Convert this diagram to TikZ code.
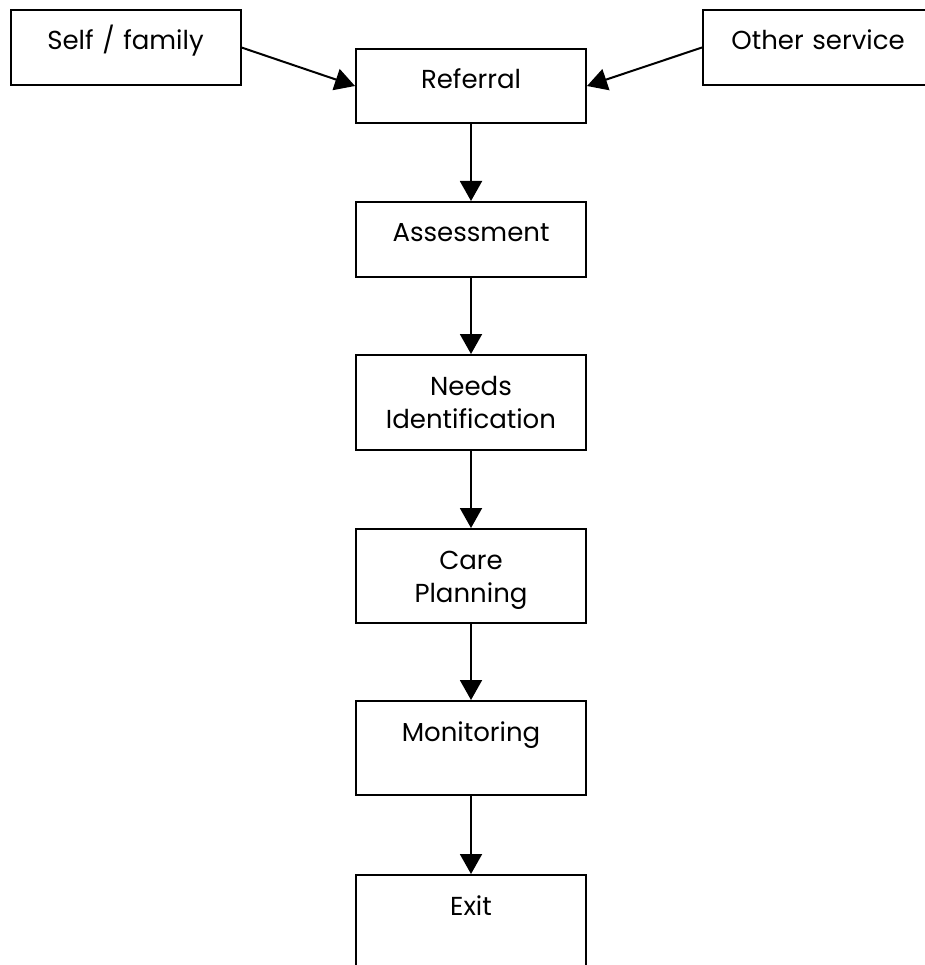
\documentclass[tikz,border=0pt]{standalone}
\usepackage{fontspec}
\setmainfont{Poppins}
\usetikzlibrary{arrows.meta}

\tikzset{
  stepbox/.style={draw, line width=2pt, minimum width=230pt, text width=220pt,
    align=center, anchor=north, inner ysep=0pt, text height=40pt, text depth=#1,
    font=\fontsize{26}{33}\selectfont},
  flow/.style={line width=2pt, -{Triangle[length=20pt,width=22pt]}}
}

\begin{document}
\begin{tikzpicture}[x=1pt,y=-1pt]
\useasboundingbox (0,0) rectangle (924,965);

% sources
\node[stepbox=35pt] (self) at (125.5,9) {Self / family};
\node[stepbox=35pt] (other) at (818,9) {Other service};

% main column
\node[stepbox=34pt] (referral) at (471,48) {Referral};
\node[stepbox=35pt] (assessment) at (471,201) {Assessment};
\node[stepbox=55pt] (needs) at (471,354) {Needs\\Identification};
\node[stepbox=54pt] (care) at (471,528) {Care\\Planning};
\node[stepbox=54pt] (monitoring) at (471,700) {Monitoring};
\node[stepbox=100pt] (exit) at (471,874) {Exit};

\draw[flow] (self.east) -- (referral.west);
\draw[flow] (other.west) -- (referral.east);
\foreach \a/\b in {referral/assessment, assessment/needs, needs/care,
                   care/monitoring, monitoring/exit}
  \draw[flow] (\a.south) -- (\b.north);
\end{tikzpicture}
\end{document}
